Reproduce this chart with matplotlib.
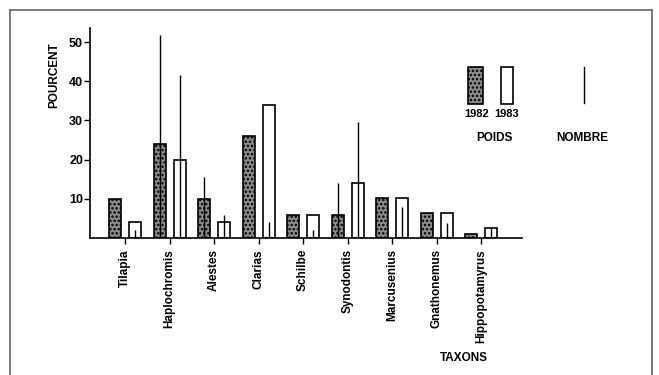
import numpy as np
import matplotlib.pyplot as plt
from matplotlib.lines import Line2D
from matplotlib.patches import Rectangle

plt.rcParams["font.family"] = ["Liberation Sans", "DejaVu Sans"]
plt.rcParams["hatch.linewidth"] = 1.2

taxons = ["Tilapia", "Haplochromis", "Alestes", "Clarias", "Schilbe",
          "Synodontis", "Marcusenius", "Gnathonemus", "Hippopotamyrus"]
poids_1982 = [10, 24, 10, 26, 6, 6, 10.2, 6.4, 1]
poids_1983 = [4, 20, 4, 34, 6, 14, 10.2, 6.4, 2.5]
# NOMBRE lines; nan where the line is hidden inside the stippled bar
nombre_1982 = [np.nan, 51.8, 15.5, np.nan, np.nan, 14, np.nan, np.nan, np.nan]
nombre_1983 = [2, 41.6, 5.9, 4, 2, 29.6, 8, 3.8, 2.5]
yticks = [10, 20, 30, 40, 50]

fig = plt.figure(figsize=(6.59, 3.75), dpi=100)
ax = fig.add_axes([0.1366, 0.3653, 0.6555, 0.56])

x = np.arange(len(taxons))
w = 0.27
off = 0.225
ax.bar(x - off, poids_1982, w, facecolor="#8c8c8c", edgecolor="black",
       hatch="....", linewidth=1.2, zorder=2)
ax.bar(x + off, poids_1983, w, facecolor="white", edgecolor="black",
       linewidth=1.2, zorder=2)
ax.vlines(x - off, 0, nombre_1982, color="black", linewidth=1, zorder=3)
ax.vlines(x + off, 0, nombre_1983, color="black", linewidth=1, zorder=3)

ax.set_xlim(-0.79, 8.92)
ax.set_ylim(0, 53.6)
for s in ["top", "right"]:
    ax.spines[s].set_visible(False)
ax.spines["left"].set_linewidth(1.2)
ax.spines["bottom"].set_linewidth(1.2)

ax.set_yticks(yticks)
ax.set_yticklabels([str(v) for v in yticks], fontsize=9, fontweight="bold")
ax.tick_params(axis="y", direction="out", length=4, width=1, pad=1)
ax.set_xticks(x)
ax.set_xticklabels(taxons, rotation=90, fontsize=8.5, fontweight="bold",
                   va="top", ha="center")
ax.tick_params(axis="x", direction="out", length=4, width=1, pad=4)

# legend drawn by hand
ax.add_patch(Rectangle((7.71, 34.2), 0.33, 9.4, facecolor="#8c8c8c", edgecolor="black",
                       hatch="....", linewidth=1.2, clip_on=False))
ax.add_patch(Rectangle((8.45, 34.2), 0.27, 9.4, facecolor="white", edgecolor="black",
                       linewidth=1.2, clip_on=False))
ax.plot([10.31, 10.31], [34.5, 43.6], color="black", linewidth=1, clip_on=False)
ax.text(7.89, 31.6, "1982", fontsize=8, fontweight="bold", ha="center", va="center")
ax.text(8.58, 31.6, "1983", fontsize=8, fontweight="bold", ha="center", va="center")
ax.text(8.31, 25.5, "POIDS", fontsize=8.5, fontweight="bold", ha="center", va="center")
ax.text(10.27, 25.5, "NOMBRE", fontsize=8.5, fontweight="bold", ha="center",
        va="center", clip_on=False)

fig.text(0.083, 0.8, "POURCENT", rotation=90, fontsize=8.5, fontweight="bold",
         ha="center", va="center")
fig.text(0.704, 0.045, "TAXONS", fontsize=8.5, fontweight="bold", ha="center", va="center")

# page frame
fx0, fx1, fy1 = 10 / 659, 652 / 659, 1 - 10 / 375
for xs, ys in [([fx0, fx0], [0, fy1]), ([fx0, fx1], [fy1, fy1]), ([fx1, fx1], [fy1, 0])]:
    fig.add_artist(Line2D(xs, ys, color="#666666", linewidth=1.2))

fig.savefig("out.png", dpi=100)
